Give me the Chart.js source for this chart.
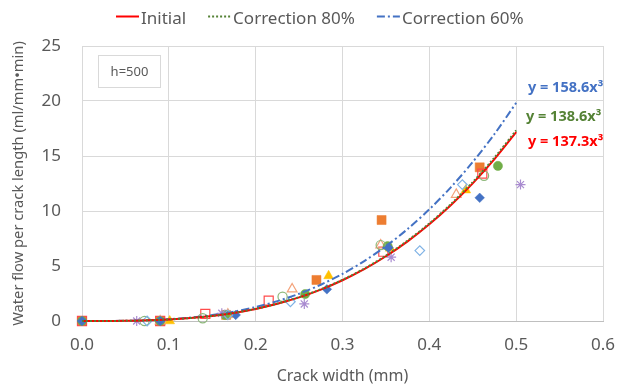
<!DOCTYPE html>
<html><head><meta charset="utf-8">
<script src="https://cdn.jsdelivr.net/npm/chart.js@4/dist/chart.umd.min.js"></script>
<style>html,body{margin:0;padding:0;background:#fff}#wrap{width:632px;height:387px}</style>
</head><body><div id="wrap"><canvas id="c" width="632" height="387"></canvas></div>
<script>
// Trendline definitions (y = k * x^3)
const fitNames = ['Initial', 'Correction 80%', 'Correction 60%'];
const fitCoefs = [137.3, 138.6, 158.6];
const fitLabels = ['y = 137.3x³', 'y = 138.6x³', 'y = 158.6x³'];
const fitX = [0, 0.025, 0.05, 0.075, 0.1, 0.125, 0.15, 0.175, 0.2, 0.225, 0.25, 0.275, 0.3, 0.325, 0.35, 0.375, 0.4, 0.425, 0.45, 0.475, 0.5];

// Measured points (crack width mm, water flow ml/mm·min)
const sqFillX = [0.0, 0.09, 0.166, 0.270, 0.345, 0.458];
const sqFillY = [0.0, 0.0, 0.55, 3.73, 9.18, 13.97];
const sqOpenX = [0.0, 0.09, 0.142, 0.215, 0.347, 0.461];
const sqOpenY = [0.0, 0.0, 0.64, 1.85, 6.3, 13.4];
const triFillX = [0.101, 0.168, 0.284, 0.355, 0.442];
const triFillY = [0.0, 0.55, 4.1, 6.6, 11.9];
const triOpenX = [0.09, 0.168, 0.242, 0.344, 0.431];
const triOpenY = [0.0, 0.6, 2.9, 6.9, 11.5];
const cirFillX = [0.0, 0.09, 0.165, 0.257, 0.352, 0.479];
const cirFillY = [0.0, 0.0, 0.55, 2.45, 6.8, 14.1];
const cirOpenX = [0.072, 0.139, 0.231, 0.344, 0.463];
const cirOpenY = [0.0, 0.25, 2.2, 6.9, 13.2];
const diaFillX = [0.0, 0.09, 0.177, 0.282, 0.353, 0.458];
const diaFillY = [0.0, 0.0, 0.55, 2.88, 6.66, 11.2];
const diaOpenX = [0.075, 0.168, 0.240, 0.389, 0.438];
const diaOpenY = [0.0, 0.55, 1.75, 6.4, 12.4];
const starX = [0.063, 0.161, 0.256, 0.356, 0.505];
const starY = [0.0, 0.7, 1.55, 5.8, 12.4];

const xTicks = [0, 0.1, 0.2, 0.3, 0.4, 0.5, 0.6];
const yTicks = [0, 5, 10, 15, 20, 25];

const pts = (xs, ys) => xs.map((x, i) => ({x, y: ys[i]}));
const fitPts = k => fitX.map(x => ({x, y: k * x * x * x}));

const lineStyles = [
  {color: '#FF0000', dash: [], order: 1},
  {color: '#548235', dash: [2, 2], order: 0},
  {color: '#4472C4', dash: [8, 3, 2, 3], order: 2}
];

const datasets = fitNames.map((n, i) => ({
  label: n, type: 'line', data: fitPts(fitCoefs[i]),
  borderColor: lineStyles[i].color, backgroundColor: lineStyles[i].color,
  borderWidth: 2, borderDash: lineStyles[i].dash, pointRadius: 0,
  tension: 0.3, fill: false, order: lineStyles[i].order, showLine: true, clip: false
}));

// later series drawn on top (lower order = drawn later)
const scat = (label, data, style, fillC, strokeC, filled, r, order) => ({
  label, type: 'scatter', data, pointStyle: style, pointRadius: r,
  backgroundColor: filled ? fillC : 'rgba(255,255,255,0)', borderColor: strokeC,
  borderWidth: filled ? 0.5 : 1.2, order, clip: false
});

datasets.push(
  scat('s1', pts(sqFillX, sqFillY), 'rect', '#ED7D31', '#ED7D31', true, 6.4, 14),
  scat('s2', pts(sqOpenX, sqOpenY), 'rect', '#fff', '#FF4B4B', false, 6.4, 13),
  scat('s3', pts(triFillX, triFillY), 'triangle', '#FFC000', '#FFC000', true, 5.6, 12),
  scat('s4', pts(triOpenX, triOpenY), 'triangle', '#fff', '#F4A27A', false, 5.6, 11),
  scat('s5', pts(cirFillX, cirFillY), 'circle', '#70AD47', '#70AD47', true, 4.6, 10),
  scat('s6', pts(cirOpenX, cirOpenY), 'circle', '#fff', '#8DB87A', false, 4.6, 9),
  scat('s7', pts(diaFillX, diaFillY), 'rectRot', '#4472C4', '#4472C4', true, 4.8, 8),
  scat('s8', pts(diaOpenX, diaOpenY), 'rectRot', '#fff', '#7FB2E5', false, 4.8, 7),
  scat('s9', pts(starX, starY), 'star', '#A98BD0', '#A98BD0', false, 5, 6)
);

const FONT = '"Noto Sans"';

const legendAndNotes = {
  id: 'legendAndNotes',
  afterDraw(chart) {
    const ctx = chart.ctx;
    ctx.save();
    // legend (line samples carry the dataset dash patterns)
    ctx.font = '17px ' + FONT;
    const sampleW = 23, textGap = 2, itemGap = 22;
    const widths = fitNames.map(n => sampleW + textGap + ctx.measureText(n).width);
    const total = widths.reduce((a, b) => a + b, 0) + itemGap * (widths.length - 1);
    let x = Math.round((chart.width - total) / 2) + 4;
    const ly = 16.5;
    fitNames.forEach((n, i) => {
      const ds = chart.data.datasets[i];
      ctx.strokeStyle = ds.borderColor; ctx.lineWidth = 2;
      ctx.setLineDash(ds.borderDash);
      ctx.beginPath(); ctx.moveTo(x, ly); ctx.lineTo(x + sampleW, ly); ctx.stroke();
      ctx.setLineDash([]);
      ctx.fillStyle = '#595959'; ctx.textAlign = 'left'; ctx.textBaseline = 'middle';
      ctx.fillText(n, x + sampleW + textGap, 19);
      x += widths[i] + itemGap;
    });
    // h=500 box
    ctx.strokeStyle = '#D9D9D9'; ctx.lineWidth = 1;
    ctx.fillStyle = '#fff';
    ctx.fillRect(98.5, 55.5, 62, 32);
    ctx.strokeRect(98.5, 55.5, 62, 32);
    ctx.fillStyle = '#595959';
    ctx.font = '13px ' + FONT;
    ctx.textAlign = 'center'; ctx.textBaseline = 'middle';
    ctx.fillText('h=500', 129.5, 72);
    // equations
    ctx.font = 'bold 14.5px ' + FONT;
    ctx.textAlign = 'left';
    const eqColors = ['#FF0000', '#548235', '#4472C4'];
    const eqPos = [[528, 142], [526, 117], [528, 88]];
    fitLabels.forEach((t, i) => {
      ctx.fillStyle = eqColors[i];
      ctx.fillText(t, eqPos[i][0], eqPos[i][1]);
    });
    ctx.restore();
  }
};

new Chart(document.getElementById('c'), {
  type: 'scatter',
  data: {datasets},
  options: {
    responsive: false, animation: false, devicePixelRatio: 1,
    layout: {padding: {left: 4, right: 29, top: 46, bottom: 0}},
    plugins: {
      legend: {display: false},
      tooltip: {enabled: false}
    },
    scales: {
      x: {
        type: 'linear', min: 0, max: 0.6,
        afterBuildTicks: s => { s.ticks = xTicks.map(v => ({value: v})); },
        ticks: {color: '#595959', font: {family: FONT, size: 17}, callback: v => v.toFixed(1), padding: 14},
        grid: {color: '#D9D9D9', drawTicks: false},
        border: {color: '#BFBFBF'},
        title: {display: true, text: 'Crack width (mm)', color: '#595959', font: {family: FONT, size: 16}, padding: {top: 0, bottom: 1}},
        afterFit: s => { s.height = 387 - 321; }
      },
      y: {
        type: 'linear', min: 0, max: 25,
        afterBuildTicks: s => { s.ticks = yTicks.map(v => ({value: v})); },
        ticks: {color: '#595959', font: {family: FONT, size: 17}, padding: 21},
        grid: {color: '#D9D9D9', drawTicks: false},
        border: {display: false},
        title: {display: true, text: 'Water flow per crack length (ml/mm•min)', color: '#595959', font: {family: FONT, size: 14.7}, padding: {top: 6, bottom: 0}},
        afterFit: s => { s.width = 82 - 4; }
      }
    }
  },
  plugins: [legendAndNotes]
});
</script>
</body></html>
